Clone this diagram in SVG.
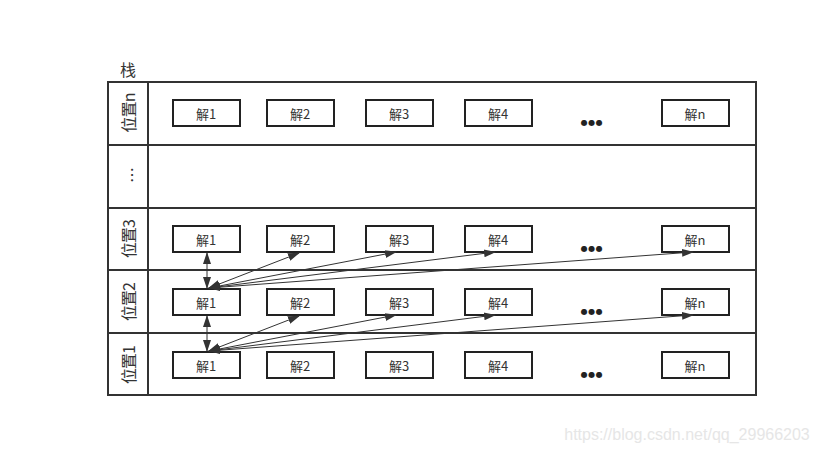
<svg xmlns="http://www.w3.org/2000/svg" width="818" height="458" viewBox="0 0 818 458">
<style>
.grid{fill:none;stroke:#333;stroke-width:2}
.box{fill:#fff;stroke:#222;stroke-width:2}
.t{font-family:"Noto Sans CJK SC","Noto Sans",sans-serif;font-size:13px;fill:#333;text-anchor:middle;dominant-baseline:central}
.lbl{font-family:"Noto Sans CJK SC","Noto Sans",sans-serif;font-size:16px;fill:#333;text-anchor:middle;dominant-baseline:central}
.dots{font-family:"DejaVu Sans",sans-serif;font-size:8px;letter-spacing:0.5px;fill:#222;text-anchor:middle;dominant-baseline:central}
.c{stroke:#333;stroke-width:1;fill:none;marker-start:url(#ah);marker-end:url(#ah)}
</style>
<defs>
<marker id="ah" viewBox="0 0 12 10" refX="11" refY="5" markerWidth="12" markerHeight="10" markerUnits="userSpaceOnUse" orient="auto-start-reverse">
<path d="M0,1 L12,5 L0,9 Z" fill="#333"/>
</marker>
</defs>
<rect width="818" height="458" fill="#fff"/>
<text x="128" y="69" class="lbl" font-size="15">栈</text>
<g id="table">
<rect x="108" y="82" width="648" height="313" class="grid"/>
<line x1="148" y1="82" x2="148" y2="395" class="grid"/>
<line x1="108" y1="145" x2="756" y2="145" class="grid"/>
<line x1="108" y1="208" x2="756" y2="208" class="grid"/>
<line x1="108" y1="270" x2="756" y2="270" class="grid"/>
<line x1="108" y1="333" x2="756" y2="333" class="grid"/>
</g>
<g id="labels">
<text class="lbl" letter-spacing="-1" transform="translate(128,113) rotate(-90)">位置n</text>
<text class="lbl" transform="translate(131,175) rotate(-90)">…</text>
<text class="lbl" letter-spacing="-1" transform="translate(128,239) rotate(-90)">位置3</text>
<text class="lbl" letter-spacing="-1" transform="translate(128,302) rotate(-90)">位置2</text>
<text class="lbl" letter-spacing="-1" transform="translate(128,365) rotate(-90)">位置1</text>
</g>
<g id="row-n">
<g id="n1"><rect x="173" y="100" width="67" height="26" class="box"/><text x="206" y="113" class="t">解1</text></g>
<g id="n2"><rect x="267" y="100" width="67" height="26" class="box"/><text x="300" y="113" class="t">解2</text></g>
<g id="n3"><rect x="366" y="100" width="67" height="26" class="box"/><text x="399" y="113" class="t">解3</text></g>
<g id="n4"><rect x="465" y="100" width="67" height="26" class="box"/><text x="498" y="113" class="t">解4</text></g>
<text x="592" y="122" class="dots">●●●</text>
<g id="nn"><rect x="662" y="100" width="67" height="26" class="box"/><text x="695" y="113" class="t">解n</text></g>
</g>
<g id="row-3">
<g id="r3-1"><rect x="173" y="226" width="67" height="26" class="box"/><text x="206" y="239" class="t">解1</text></g>
<g id="r3-2"><rect x="267" y="226" width="67" height="26" class="box"/><text x="300" y="239" class="t">解2</text></g>
<g id="r3-3"><rect x="366" y="226" width="67" height="26" class="box"/><text x="399" y="239" class="t">解3</text></g>
<g id="r3-4"><rect x="465" y="226" width="67" height="26" class="box"/><text x="498" y="239" class="t">解4</text></g>
<text x="592" y="248" class="dots">●●●</text>
<g id="r3-n"><rect x="662" y="226" width="67" height="26" class="box"/><text x="695" y="239" class="t">解n</text></g>
</g>
<g id="row-2">
<g id="r2-1"><rect x="173" y="289" width="67" height="26" class="box"/><text x="206" y="302" class="t">解1</text></g>
<g id="r2-2"><rect x="267" y="289" width="67" height="26" class="box"/><text x="300" y="302" class="t">解2</text></g>
<g id="r2-3"><rect x="366" y="289" width="67" height="26" class="box"/><text x="399" y="302" class="t">解3</text></g>
<g id="r2-4"><rect x="465" y="289" width="67" height="26" class="box"/><text x="498" y="302" class="t">解4</text></g>
<text x="592" y="311" class="dots">●●●</text>
<g id="r2-n"><rect x="662" y="289" width="67" height="26" class="box"/><text x="695" y="302" class="t">解n</text></g>
</g>
<g id="row-1">
<g id="r1-1"><rect x="173" y="352" width="67" height="26" class="box"/><text x="206" y="365" class="t">解1</text></g>
<g id="r1-2"><rect x="267" y="352" width="67" height="26" class="box"/><text x="300" y="365" class="t">解2</text></g>
<g id="r1-3"><rect x="366" y="352" width="67" height="26" class="box"/><text x="399" y="365" class="t">解3</text></g>
<g id="r1-4"><rect x="465" y="352" width="67" height="26" class="box"/><text x="498" y="365" class="t">解4</text></g>
<text x="592" y="374" class="dots">●●●</text>
<g id="r1-n"><rect x="662" y="352" width="67" height="26" class="box"/><text x="695" y="365" class="t">解n</text></g>
</g>
<g id="connectors">
<line x1="207" y1="253" x2="207" y2="288" class="c"/>
<line x1="209" y1="288" x2="299" y2="253" class="c"/>
<line x1="209" y1="288" x2="396" y2="252" class="c"/>
<line x1="209" y1="288" x2="495" y2="252" class="c"/>
<line x1="209" y1="288" x2="693" y2="252" class="c"/>
<line x1="207" y1="316" x2="207" y2="351" class="c"/>
<line x1="209" y1="351" x2="299" y2="316" class="c"/>
<line x1="209" y1="351" x2="396" y2="315" class="c"/>
<line x1="209" y1="351" x2="495" y2="315" class="c"/>
<line x1="209" y1="351" x2="693" y2="315" class="c"/>
</g>
<text x="687" y="440" font-family="Liberation Sans,Arial,sans-serif" font-size="16" fill="#e6e6e6" text-anchor="middle">https://blog.csdn.net/qq_29966203</text>
</svg>
